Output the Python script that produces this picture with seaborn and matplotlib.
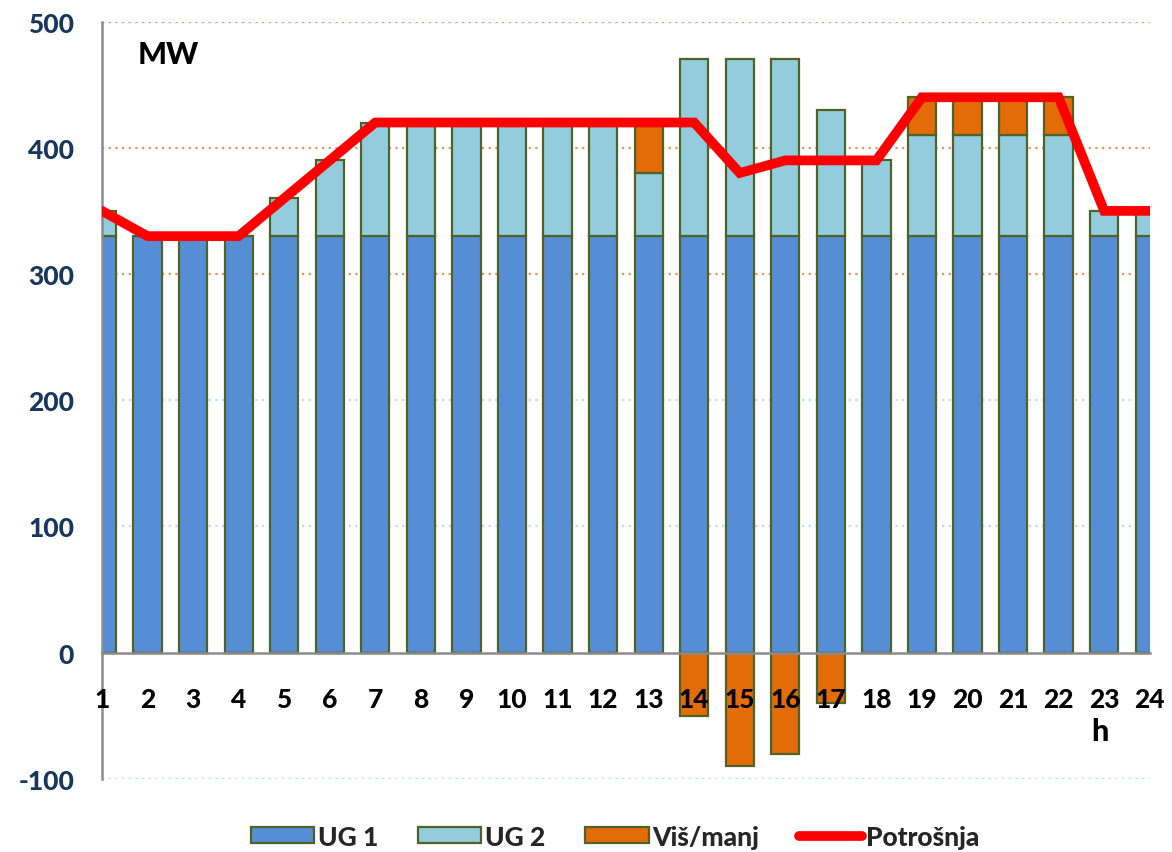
import matplotlib.pyplot as plt
import matplotlib.patches as mpatches
import matplotlib.lines as mlines
import numpy as np
import pandas as pd
import seaborn as sns

# data (MW per hour)
hours = list(range(1, 25))
ug1 = [330] * 24
ug2 = [20, 0, 0, 0, 30, 60, 90, 90, 90, 90, 90, 90, 50, 140, 140, 140, 100, 60, 80, 80, 80, 80, 20, 20]
vis_manj = [0, 0, 0, 0, 0, 0, 0, 0, 0, 0, 0, 0, 40, -50, -90, -80, -40, 0, 30, 30, 30, 30, 0, 0]
potrosnja = [350, 330, 330, 330, 360, 390, 420, 420, 420, 420, 420, 420, 420, 420, 380, 390, 390, 390,
             440, 440, 440, 440, 350, 350]

yticks = [-100, 0, 100, 200, 300, 400, 500]

df = pd.DataFrame({'h': hours, 'UG 1': ug1, 'UG 2': ug2, 'Viš/manj': vis_manj, 'Potrošnja': potrosnja})
df['vis_bottom'] = np.where(df['Viš/manj'] > 0, df['UG 1'] + df['UG 2'], 0)

sns.set_style('white')
plt.rcParams['font.family'] = ['Lato', 'DejaVu Sans']
plt.rcParams['font.weight'] = 'black'

c_ug1 = '#558ED5'
c_ug2 = '#93CDDD'
c_vis = '#E36C09'
c_edge = '#4F6228'
navy = '#17375E'
fw = 'black'

fig = plt.figure(figsize=(11.72, 8.53), dpi=100)
ax = fig.add_axes([0.087, 0.0856, 0.894, 0.888])
ax.set_axisbelow(False)

# gridlines (dotted), orange for upper ones, pale blue for lower ones
for v in yticks:
    if v == 0:
        continue
    col = '#E8935A' if v >= 300 else '#C9D6EE'
    ax.axhline(v, color=col, lw=1.6, ls=(0, (1, 2)), zorder=0)

w = 0.62
ax.bar(df['h'], df['UG 1'], width=w, color=c_ug1, edgecolor=c_edge, lw=1.6, zorder=2)
ax.bar(df['h'], df['UG 2'], width=w, bottom=df['UG 1'], color=c_ug2, edgecolor=c_edge, lw=1.6, zorder=2)
ax.bar(df['h'], df['Viš/manj'], width=w, bottom=df['vis_bottom'], color=c_vis, edgecolor=c_edge, lw=1.6, zorder=2)

sns.lineplot(data=df, x='h', y='Potrošnja', color='#FF0000', lw=7, ax=ax, zorder=3,
             solid_joinstyle='miter', legend=False)

ax.set_xlim(1, 24)
ax.set_ylim(-100, 500)
ax.set_xlabel('')
ax.set_ylabel('')

for s in ['top', 'right']:
    ax.spines[s].set_visible(False)
ax.spines['left'].set_color('#8C8C8C')
ax.spines['left'].set_linewidth(1.8)
ax.spines['bottom'].set_color('#8C8C8C')
ax.spines['bottom'].set_linewidth(1.8)
ax.spines['bottom'].set_position(('data', 0))
ax.spines['bottom'].set_zorder(2.6)

ax.set_yticks(yticks)
ax.set_yticklabels([str(v) for v in yticks], color=navy, fontsize=19, fontweight=fw)
ax.tick_params(axis='y', direction='out', length=9, width=1.8, color='#8C8C8C', pad=11)

ax.set_xticks(hours)
ax.set_xticklabels([str(h) for h in hours], color='black', fontsize=19, fontweight=fw)
ax.tick_params(axis='x', which='major', length=0, pad=25)
ax.set_xticks(list(range(3, 24, 2)), minor=True)
ax.tick_params(axis='x', which='minor', direction='out', length=7, width=1.8, color='#8C8C8C')
ax.xaxis.set_zorder(5)

ax.text(1.78, 474, 'MW', fontsize=22, fontweight=fw, color='black', va='center', ha='left')
ax.text(22.9, -62, 'h', fontsize=22, fontweight=fw, color='black', va='center', ha='center')

handles = [
    mpatches.Patch(facecolor=c_ug1, edgecolor=c_edge, lw=1.6, label='UG 1'),
    mpatches.Patch(facecolor=c_ug2, edgecolor=c_edge, lw=1.6, label='UG 2'),
    mpatches.Patch(facecolor=c_vis, edgecolor=c_edge, lw=1.6, label='Viš/manj'),
    mlines.Line2D([], [], color='#FF0000', lw=7, label='Potrošnja'),
]
fig.legend(handles=handles, loc='center', bbox_to_anchor=(0.525, 0.018), ncol=4, frameon=False,
           prop={'size': 19, 'weight': fw}, handlelength=2.4, handleheight=0.55,
           handletextpad=0.15, columnspacing=1.5)

fig.savefig('out.png', dpi=100)
